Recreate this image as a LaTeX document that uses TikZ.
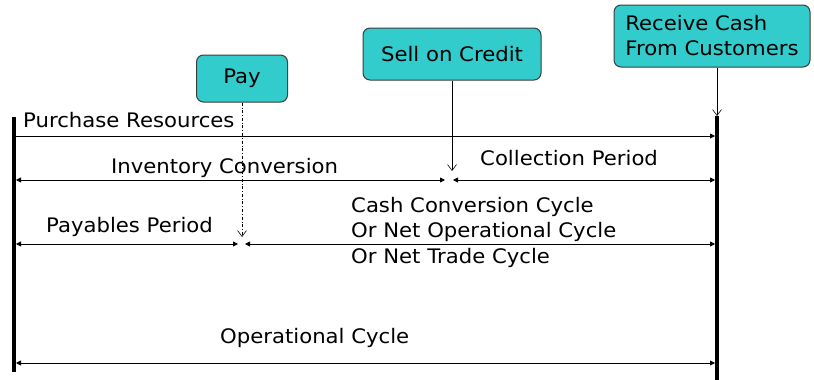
\documentclass[tikz,border=0pt]{standalone}
\usepackage{fontspec}
\setmainfont{DejaVu Sans}[FakeStretch=1.06]
\usetikzlibrary{arrows.meta, positioning}
\definecolor{eventTeal}{RGB}{51,204,204}
\definecolor{edgeGray}{RGB}{60,60,60}

\begin{document}
\begin{tikzpicture}[x=1pt, y=-1pt,
  event/.style={rectangle, rounded corners=7pt, draw=edgeGray, line width=1pt,
                fill=eventTeal, font=\fontsize{20}{25}\selectfont, align=left},
  tag/.style={inner sep=0pt, font=\fontsize{20}{25.5}\selectfont},
  period/.style={{Triangle[length=5pt,width=5pt]}-{Triangle[length=5pt,width=5pt]}, line width=0.8pt},
  onward/.style={-{Triangle[length=5pt,width=5pt]}, line width=0.8pt},
  cue/.style={-{Straight Barb[length=6pt,width=9pt]}, line width=0.6pt},
  rail/.style={line width=4pt}
]
  \useasboundingbox (0,0) rectangle (814,380);

  % time rails
  \coordinate (lt) at (14,117);
  \coordinate (lb) at (14,372);
  \coordinate (rt) at (717,116);
  \coordinate (rb) at (717,380);
  \draw[rail] (lt) -- (lb);
  \draw[rail] (rt) -- (rb);

  % events
  \node[event, minimum width=91pt, minimum height=47pt] (Pay) at (242,78.5) {Pay};
  \node[event, minimum width=178pt, minimum height=52pt] (Sell) at (452,54) {Sell on Credit};
  \node[event, minimum width=196pt, minimum height=62pt] (Recv) at (712,36)
    {Receive Cash\\From Customers};

  % ends of the periods
  \coordinate (purL) at (16,136);   \coordinate (purR) at (715,136);
  \coordinate (invL) at (16,180);   \coordinate (invR) at (445,180);
  \coordinate (colL) at (453,180);  \coordinate (colR) at (715,180);
  \coordinate (payL) at (16,244);   \coordinate (payR) at (238,244);
  \coordinate (cccL) at (245,244);  \coordinate (cccR) at (715,244);
  \coordinate (opL)  at (16,363);   \coordinate (opR)  at (715,363);
  \coordinate (payAt)  at (242,237);
  \coordinate (sellAt) at (452,171);

  \draw[onward] (purL) -- (purR);
  \foreach \a/\b in {invL/invR, colL/colR, payL/payR, cccL/cccR, opL/opR}
    \draw[period] (\a) -- (\b);

  \draw[cue, dash dot] (Pay.south) -- (payAt);
  \draw[cue] (Sell.south) -- (sellAt);
  \draw[cue] (Recv.south -| rt) -- (rt);

  % labels
  \node[tag, anchor=base west] (tPur) at (23,127) {Purchase Resources};
  \node[tag, anchor=base west] (tInv) at (111,173) {Inventory Conversion};
  \node[tag, anchor=base west] (tCol) at (480,165) {Collection Period};
  \node[tag, anchor=base west] (tPay) at (46,232) {Payables Period};
  \node[tag, anchor=west, align=left] (tCcc) at (351,232)
    {Cash Conversion Cycle\\Or Net Operational Cycle\\Or Net Trade Cycle};
  \node[tag, anchor=base west] (tOp) at (220,343) {Operational Cycle};
\end{tikzpicture}
\end{document}
